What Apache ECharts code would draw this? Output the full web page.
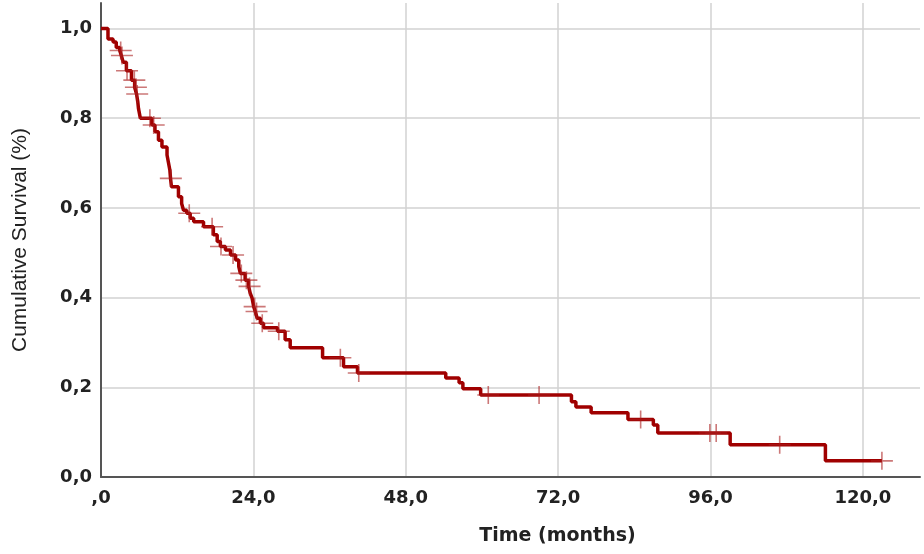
<html>
  <head>
    <meta charset="utf-8">
    <style>
      html, body { margin: 0; padding: 0; background: #fff; }
      #chart { width: 924px; height: 554px; }
    </style>
  </head>
  <body>
    <div id="chart"></div>
  </body>
  <script src="https://cdn.jsdelivr.net/npm/echarts@6/dist/echarts.min.js"></script>
  <script>

// Kaplan-Meier steps: time (months) where survival drops, and the value after the drop
var stepTimes = [0, 1.1, 1.9, 2.4, 2.95, 3.2, 3.5, 4.0, 4.8, 5.3, 5.6, 5.8, 5.9, 6.2,
  8.0, 8.5, 9.05, 9.6, 10.4, 10.6, 10.85, 10.95, 11.1, 12.2, 12.7, 13.0, 13.5, 14.05,
  14.6, 16.15, 17.7, 18.3, 18.8, 19.6, 20.4, 21.2, 21.7, 21.95, 22.7, 23.25, 23.5,
  23.8, 24.05, 24.3, 24.6, 25.1, 25.6, 27.8, 29.0, 29.8, 34.9, 38.2, 40.4, 54.3,
  56.4, 57.0, 59.8, 74.1, 74.8, 77.2, 83.0, 87.0, 87.7, 99.1, 114.1, 123.0];
var stepSurvival = [1.000, 0.977, 0.970, 0.958, 0.951, 0.940, 0.925, 0.906, 0.885, 0.869, 0.854, 0.836, 0.822, 0.800,
  0.785, 0.770, 0.751, 0.736, 0.718, 0.703, 0.684, 0.666, 0.647, 0.625, 0.610, 0.595, 0.588, 0.577,
  0.569, 0.558, 0.540, 0.525, 0.514, 0.506, 0.495, 0.484, 0.469, 0.454, 0.439, 0.425, 0.410,
  0.399, 0.380, 0.369, 0.354, 0.343, 0.333, 0.325, 0.306, 0.288, 0.266, 0.246, 0.232, 0.221,
  0.210, 0.197, 0.183, 0.168, 0.156, 0.143, 0.128, 0.116, 0.098, 0.072, 0.036, 0.036];

// censored cases (+ marks)
var censorTimes = [3.1, 3.3, 4.1, 5.25, 5.5, 5.7, 7.7, 8.3, 11.0, 13.9, 17.5, 18.9, 20.8,
  22.1, 22.9, 23.4, 24.2, 24.5, 25.4, 28.0, 37.7, 40.6, 61.0, 69.0, 85.0, 95.9, 96.9, 106.9, 123.0];
var censorSurvival = [0.951, 0.940, 0.906, 0.885, 0.869, 0.854, 0.800, 0.785, 0.666, 0.588, 0.558, 0.514, 0.495,
  0.454, 0.439, 0.425, 0.380, 0.369, 0.343, 0.325, 0.266, 0.232, 0.183, 0.183, 0.128, 0.098, 0.098, 0.072, 0.036];

var xTicks = [0, 24, 48, 72, 96, 120];
var yTicks = [0, 0.2, 0.4, 0.6, 0.8, 1.0];

function comma(v) {
  var s = v.toFixed(1).replace('.', ',');
  return s === '0,0' ? ',0' : s;
}

var curve = stepTimes.map(function (t, i) { return [t, stepSurvival[i]]; });
var censored = censorTimes.map(function (t, i) { return [t, censorSurvival[i]]; });

var chart = echarts.init(document.getElementById('chart'));
chart.setOption({
  animation: false,
  backgroundColor: '#fff',
  grid: { left: 101, right: 4, top: 3, bottom: 77 },
  xAxis: {
    type: 'value',
    min: 0,
    max: 129,
    interval: xTicks[1] - xTicks[0],
    name: 'Time (months)',
    nameLocation: 'middle',
    nameGap: 50,
    nameTextStyle: { fontFamily: 'DejaVu Sans', fontWeight: 'bold', fontSize: 19, color: '#222', padding: [0, 0, 0, 94] },
    axisLine: { show: true, lineStyle: { color: '#555', width: 2 } },
    axisTick: { show: false },
    axisLabel: {
      showMaxLabel: false,
      margin: 12,
      fontFamily: 'DejaVu Sans', fontWeight: 'bold', fontSize: 18, color: '#222',
      formatter: function (v) { return comma(v); }
    },
    splitLine: { show: true, showMaxLine: false, lineStyle: { color: '#d2d2d2', width: 1.5 } }
  },
  yAxis: {
    type: 'value',
    min: 0,
    max: 1.057,
    interval: yTicks[1] - yTicks[0],
    name: 'Cumulative Survival (%)',
    nameLocation: 'middle',
    nameGap: 70,
    nameTextStyle: { fontFamily: 'Liberation Sans', fontSize: 21, color: '#222' },
    axisLine: { show: true, lineStyle: { color: '#555', width: 2 } },
    axisTick: { show: false },
    axisLabel: {
      showMaxLabel: false,
      margin: 9,
      fontFamily: 'DejaVu Sans', fontWeight: 'bold', fontSize: 18, color: '#222',
      formatter: function (v) { return v.toFixed(1).replace('.', ','); }
    },
    splitLine: { show: true, showMaxLine: false, lineStyle: { color: '#d2d2d2', width: 1.5 } }
  },
  series: [
    {
      type: 'line',
      step: 'end',
      data: curve,
      showSymbol: false,
      lineStyle: { color: '#a00000', width: 3.5 },
      z: 2
    },
    {
      type: 'scatter',
      data: censored,
      symbol: 'path://M0,8.2H22V9.8H0Z M10.2,0H11.8V18H10.2Z',
      symbolSize: [22, 18],
      itemStyle: { color: 'rgba(170,30,30,0.75)' },
      z: 3
    }
  ]
});

  </script>
</html>
